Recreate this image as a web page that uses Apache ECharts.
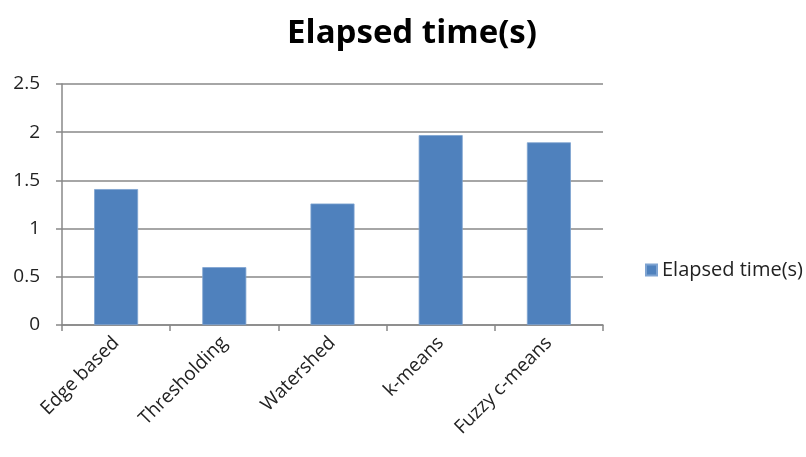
<!DOCTYPE html>
<html><head><meta charset="utf-8">
<script src="https://cdn.jsdelivr.net/npm/echarts@6/dist/echarts.min.js"></script>
<style>html,body{margin:0;padding:0;background:#fff}#c{width:806px;height:457px}</style>
</head><body><div id="c"></div>
<script>
const categories = ['Edge based','Thresholding','Watershed','k-means','Fuzzy c-means'];
const elapsed = [1.41, 0.60, 1.26, 1.97, 1.895];
const seriesName = 'Elapsed time(s)';
const chart = echarts.init(document.getElementById('c'));
chart.setOption({
  animation:false,
  title:{text:'Elapsed time(s)',left:407,textAlign:'center',top:12,
    textStyle:{fontFamily:'Open Sans',fontWeight:'bold',fontSize:33,color:'#000'}},
  legend:{orient:'vertical',left:640,top:255,itemWidth:11,itemHeight:11,itemGap:6,
    icon:'rect',textStyle:{fontFamily:'Open Sans',fontSize:20,color:'#222'},data:[seriesName]},
  grid:{left:62,right:203,top:84,bottom:132},
  xAxis:{type:'category',data:categories,
    axisLine:{lineStyle:{color:'#888',width:1.5}},
    axisTick:{show:true,length:6,lineStyle:{color:'#888',width:1.5}},
    axisLabel:{rotate:45,fontFamily:'Open Sans',fontSize:19,color:'#222',margin:15}},
  yAxis:{type:'value',min:0,max:2.5,interval:0.5,
    axisLine:{show:true,lineStyle:{color:'#888',width:1.5}},
    axisTick:{show:true,length:6,lineStyle:{color:'#888',width:1.5}},
    splitLine:{lineStyle:{color:'#888',width:1.5}},
    axisLabel:{fontFamily:'Open Sans',fontSize:19,color:'#222',margin:22}},
  series:[{name:seriesName,type:'bar',data:elapsed,barWidth:44,
    itemStyle:{color:'#4F81BD',borderColor:'#7EA3D1',borderWidth:0.8}}]
});
</script></body></html>
